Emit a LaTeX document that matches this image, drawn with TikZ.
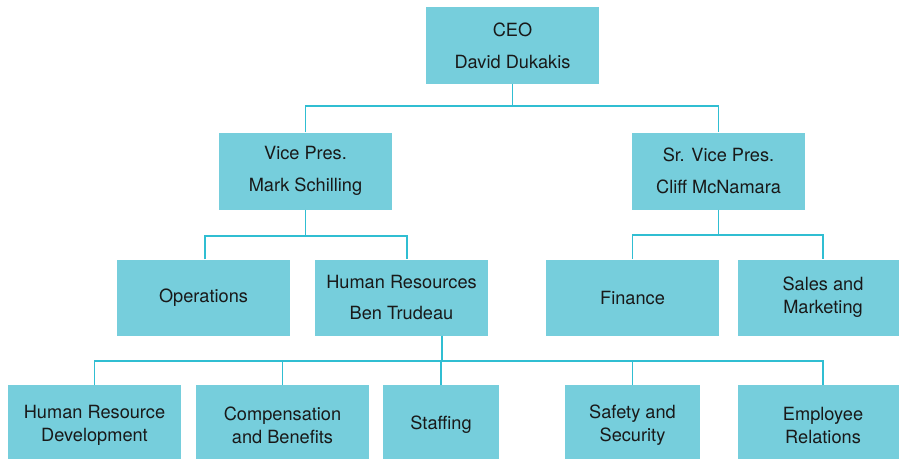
\documentclass[tikz,border=0pt]{standalone}
\usepackage{fontspec}
\setmainfont{TeX Gyre Heros}
\definecolor{boxfill}{RGB}{118,206,220}
\definecolor{linec}{RGB}{48,190,210}
\definecolor{txt}{RGB}{25,25,25}
\begin{document}
\begin{tikzpicture}[x=1pt,y=-1pt,
  box/.style={fill=boxfill, draw=none, inner sep=0pt, align=center, text=txt,
    font=\fontsize{18.2}{23}\selectfont, anchor=center},
  conn/.style={draw=linec, line width=1.6pt}]
\useasboundingbox (0,0) rectangle (899,458);
\clip (0,0) rectangle (899,458);
% level 1
\node[box, minimum width=173pt, minimum height=77pt] (ceo) at (512.5,45.5) {CEO\\[9pt]David Dukakis};
% level 2
\node[box, minimum width=173pt, minimum height=77pt] (vp) at (305.5,171) {Vice Pres.\\[9pt]Mark Schilling};
\node[box, minimum width=173pt, minimum height=77pt] (svp) at (718.5,171) {Sr. Vice Pres.\\[9pt]Cliff McNamara};
% level 3
\node[box, minimum width=173pt, minimum height=76pt] (ops) at (203.5,297.5) {Operations};
\node[box, minimum width=173pt, minimum height=76pt] (hr) at (401.5,297.5) {Human Resources\\[7.5pt]Ben Trudeau};
\node[box, minimum width=173pt, minimum height=76pt] (fin) at (632.5,297.5) {Finance};
\node[box, minimum width=170pt, minimum height=76pt] (sales) at (823,297.5) {Sales and\\Marketing};
% level 4 (boxes run past the lower edge)
\node[box, minimum width=173pt, minimum height=80pt] (hrd) at (94.5,425) {Human Resource\\Development};
\node[box, minimum width=173pt, minimum height=80pt] (comp) at (282.5,425) {Compensation\\and Benefits};
\node[box, minimum width=116pt, minimum height=80pt] (staff) at (441,425) {Staffing};
\node[box, minimum width=135pt, minimum height=80pt] (safe) at (632.5,425) {Safety and\\Security};
\node[box, minimum width=170pt, minimum height=80pt] (emp) at (823,425) {Employee\\Relations};
% connectors
\coordinate (j1) at (512.5,106);
\draw[conn] (ceo.south) -- (j1);
\draw[conn] (vp.north) |- (j1) -| (svp.north);
\coordinate (j2) at (305.5,236);
\draw[conn] (vp.south) -- (j2);
\draw[conn] ([xshift=1.2pt]ops.north) |- (j2) -| ([xshift=5.2pt]hr.north);
\coordinate (j3) at (718.5,235);
\draw[conn] (svp.south) -- (j3);
\draw[conn] (fin.north) |- (j3) -| (sales.north);
\coordinate (j4) at (442,361);
\draw[conn] ([xshift=40.5pt]hr.south) -- (j4);
\draw[conn] (hrd.north) |- (j4) -| (emp.north);
\draw[conn] (comp.north) -- (comp.north |- j4);
\draw[conn] (staff.north) -- (staff.north |- j4);
\draw[conn] (safe.north) -- (safe.north |- j4);
\end{tikzpicture}
\end{document}
